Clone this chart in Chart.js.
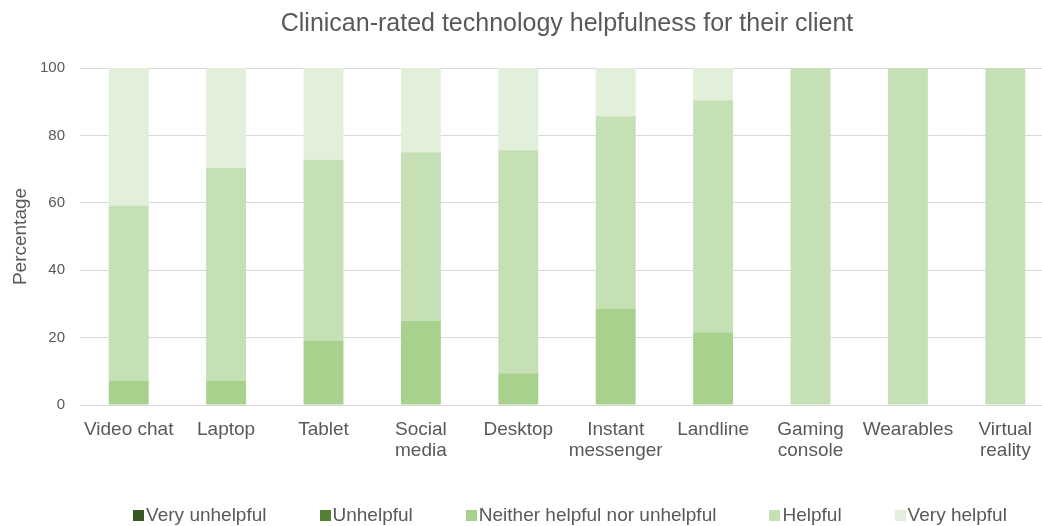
<!DOCTYPE html>
<html>
<head>
<meta charset="utf-8">
<script src="https://cdn.jsdelivr.net/npm/chart.js@4/dist/chart.umd.min.js"></script>
<style>
  html, body { margin: 0; padding: 0; background: #fff; }
  #wrap { position: relative; width: 1042px; height: 526px; overflow: hidden; }
  #legend {
    position: absolute; left: 0; top: 504px; width: 1140px;
    display: flex; justify-content: center; gap: 53px;
    font: 19px "Liberation Sans", Arial, sans-serif; color: #595959; line-height: 22px;
  }
  #legend span.item { display: flex; align-items: center; white-space: nowrap; }
  #legend span.box { width: 11px; height: 11px; margin-right: 2px; display: inline-block; }
</style>
</head>
<body>
<div id="wrap">
  <canvas id="helpChart" width="1130" height="526"></canvas>
  <div id="legend"></div>
</div>
<script>
const categories = [
  "Video chat", "Laptop", "Tablet", ["Social", "media"], "Desktop",
  ["Instant", "messenger"], "Landline", ["Gaming", "console"], "Wearables", ["Virtual", "reality"]
];

const veryUnhelpful = [0, 0, 0, 0, 0, 0, 0, 0, 0, 0];
const unhelpful = [0, 0, 0, 0, 0, 0, 0, 0, 0, 0];
const neither = [7.1, 7.3, 19, 25, 9.4, 28.6, 21.6, 0, 0, 0];
const helpful = [52.1, 63.0, 53.8, 50, 66.2, 57.1, 68.8, 100, 100, 100];
const veryHelpful = [40.8, 29.7, 27.2, 25, 24.4, 14.3, 9.6, 0, 0, 0];

const yTicks = [0, 20, 40, 60, 80, 100];

const FONT = "'Liberation Sans', Arial, sans-serif";
const TEXT = "#595959";

const series = [
  { label: "Very unhelpful", data: veryUnhelpful, color: "#385723" },
  { label: "Unhelpful", data: unhelpful, color: "#548235" },
  { label: "Neither helpful nor unhelpful", data: neither, color: "#a9d18e" },
  { label: "Helpful", data: helpful, color: "#c5e0b4" },
  { label: "Very helpful", data: veryHelpful, color: "#e2efda" },
];

const ctx = document.getElementById("helpChart").getContext("2d");
const chart = new Chart(ctx, {
  type: "bar",
  data: {
    labels: categories,
    datasets: series.map((s) => ({
      label: s.label,
      data: s.data,
      backgroundColor: s.color,
      borderWidth: 0,
      barPercentage: 0.41,
      categoryPercentage: 1,
    })),
  },
  options: {
    responsive: false,
    animation: false,
    layout: { padding: { left: 0, right: 76, top: 0, bottom: 61 } },
    plugins: {
      legend: { display: false },
      tooltip: { enabled: false },
      title: {
        display: true,
        fullSize: false,
        text: "Clinican-rated technology helpfulness for their client",
        color: TEXT,
        font: { family: FONT, size: 25, weight: "normal" },
        padding: { top: 9, bottom: 29 },
      },
    },
    scales: {
      x: {
        stacked: true,
        afterFit: (scale) => {
          scale.height = 60;
        },
        grid: { display: false },
        border: { display: false },
        ticks: {
          color: TEXT,
          font: { family: FONT, size: 19, lineHeight: 1.1 },
          padding: 6,
          maxRotation: 0,
          autoSkip: false,
        },
      },
      y: {
        stacked: true,
        min: 0,
        max: 100,
        afterBuildTicks: (scale) => {
          scale.ticks = yTicks.map((v) => ({ value: v }));
        },
        afterFit: (scale) => {
          scale.width = 80;
        },
        grid: { color: "#d9d9d9", lineWidth: 1, drawTicks: false },
        border: { display: false },
        ticks: {
          color: TEXT,
          font: { family: FONT, size: 15 },
          padding: 15,
        },
        title: {
          display: true,
          text: "Percentage",
          color: TEXT,
          font: { family: FONT, size: 19 },
          padding: { top: 9, bottom: 0 },
        },
      },
    },
  },
});

// legend built from the chart's own datasets
const legendEl = document.getElementById("legend");
chart.data.datasets.forEach((ds) => {
  const item = document.createElement("span");
  item.className = "item";
  const box = document.createElement("span");
  box.className = "box";
  box.style.background = ds.backgroundColor;
  item.appendChild(box);
  item.appendChild(document.createTextNode(ds.label));
  legendEl.appendChild(item);
});
</script>
</body>
</html>
